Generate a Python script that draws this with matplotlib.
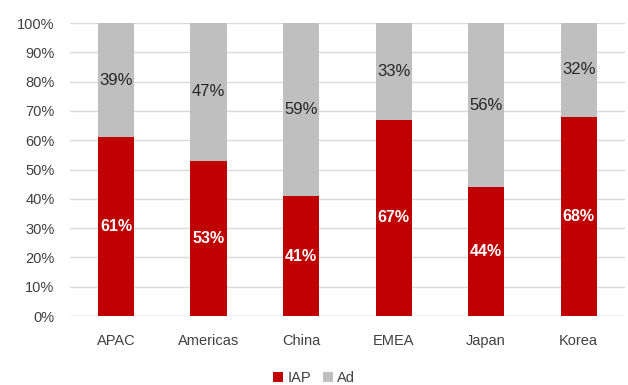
import matplotlib
matplotlib.use('Agg')

import numpy as np
import matplotlib.pyplot as plt
from matplotlib.ticker import PercentFormatter

plt.rcParams['font.family'] = ['Liberation Sans', 'DejaVu Sans']

regions = ["APAC", "Americas", "China", "EMEA", "Japan", "Korea"]
iap = [61, 53, 41, 67, 44, 68]
ad = [39, 47, 59, 33, 56, 32]

RED = "#C00000"
GREY = "#BFBFBF"

fig = plt.figure(figsize=(6.28, 3.85), dpi=100)
ax = fig.add_axes([0.111, 0.179, 0.884, 0.761])

x = np.arange(len(regions))
w = 0.39
b1 = ax.bar(x, iap, w, color=RED, label="IAP", zorder=3)
b2 = ax.bar(x, ad, w, bottom=iap, color=GREY, label="Ad", zorder=3)

ax.bar_label(b1, labels=[f"{v}%" for v in iap], label_type="center",
             color="white", fontsize=11.5, fontweight="bold")
ax.bar_label(b2, labels=[f"{v}%" for v in ad], label_type="center",
             color="#262626", fontsize=12)

ax.set_ylim(0, 100)
ax.set_xlim(-0.5, len(regions) - 0.5)
ax.set_yticks(np.arange(0, 101, 10))
ax.yaxis.set_major_formatter(PercentFormatter(decimals=0))
ax.set_xticks(x)
ax.set_xticklabels(regions)
ax.tick_params(axis="both", length=0, labelsize=10.5, colors="#404040")
ax.tick_params(axis="x", pad=13)
ax.tick_params(axis="y", pad=11)

ax.grid(axis="y", color="#D9D9D9", linewidth=1, zorder=0)
for s in ax.spines.values():
    s.set_visible(False)
ax.axhline(0, color="#D9D9D9", linewidth=1, zorder=1)

fig.legend(loc="lower center", bbox_to_anchor=(0.5, -0.035), ncol=2,
           frameon=False, fontsize=10.5, handlelength=0.7, handleheight=0.7,
           handletextpad=0.3, columnspacing=0.8, labelcolor="#404040")

fig.savefig("out.png", dpi=100)
